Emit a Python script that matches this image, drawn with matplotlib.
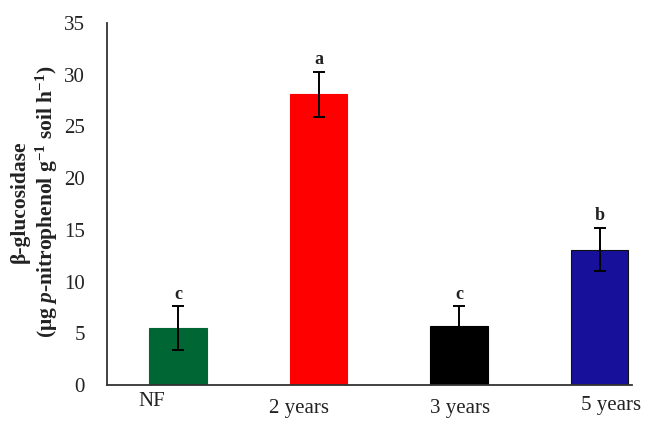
import matplotlib
matplotlib.use("Agg")
import matplotlib.pyplot as plt
from matplotlib.transforms import ScaledTranslation

categories = ["NF", "2 years", "3 years", "5 years"]
values = [5.5, 28.1, 5.7, 13.1]
errors = [2.1, 2.2, 1.9, 2.1]
letters = ["c", "a", "c", "b"]
colors = ["#006633", "#FF0000", "#000000", "#16109A"]
edges = ["#006633", "#FF0000", "#000000", "#111111"]
yticks = [0, 5, 10, 15, 20, 25, 30, 35]

plt.rcParams["font.family"] = ["Liberation Serif", "DejaVu Serif"]
plt.rcParams["mathtext.fontset"] = "custom"
plt.rcParams["mathtext.rm"] = "Liberation Serif:bold"
plt.rcParams["mathtext.it"] = "Liberation Serif:bold:italic"
plt.rcParams["mathtext.bf"] = "Liberation Serif:bold"

W, H = 646, 423
fig = plt.figure(figsize=(W / 100, H / 100), dpi=100)
ax = fig.add_axes([107 / W, 1 - 385 / H, (632 - 107) / W, (385 - 23) / H])

x = list(range(len(categories)))
ax.bar(x, values, width=0.41, color=colors, edgecolor=edges, linewidth=0.8, zorder=2)
ax.errorbar(x, values, yerr=errors, fmt="none", ecolor="black", elinewidth=1.4,
            capsize=4.5, capthick=1.4, zorder=3)

for xi, v, e, t in zip(x, values, errors, letters):
    ax.text(xi, v + e + 0.35, t, ha="center", va="bottom", fontsize=13,
            fontweight="bold", color="#222222")

ax.set_xlim(-0.505, 3.23)
ax.set_ylim(0, 35)
ax.set_yticks(yticks)
ax.set_xticks(x)
ax.set_xticklabels(categories)
ax.tick_params(axis="both", length=0, labelsize=15, colors="#222222")
ax.tick_params(axis="y", pad=16)
ax.tick_params(axis="x", pad=9)

# small hand-placed shifts of the category labels (in pixels)
shifts = [(-26, 6), (-20, -1), (1, -1), (11, 2)]
for lab, (dx, dy) in zip(ax.get_xticklabels(), shifts):
    lab.set_transform(lab.get_transform() + ScaledTranslation(dx / 100, dy / 100, fig.dpi_scale_trans))

for s in ["top", "right"]:
    ax.spines[s].set_visible(False)
for s in ["left", "bottom"]:
    ax.spines[s].set_linewidth(1.3)
    ax.spines[s].set_color("#333333")

ax.set_ylabel("β-glucosidase\n(μg $\\mathit{p}$-nitrophenol g$^{-1}$ soil h$^{-1}$)",
              fontsize=15.5, fontweight="bold", linespacing=1.2, color="#222222")
ax.yaxis.set_label_coords((60 - 107) / 525, 0.505)

fig.savefig("out.png", dpi=100)
